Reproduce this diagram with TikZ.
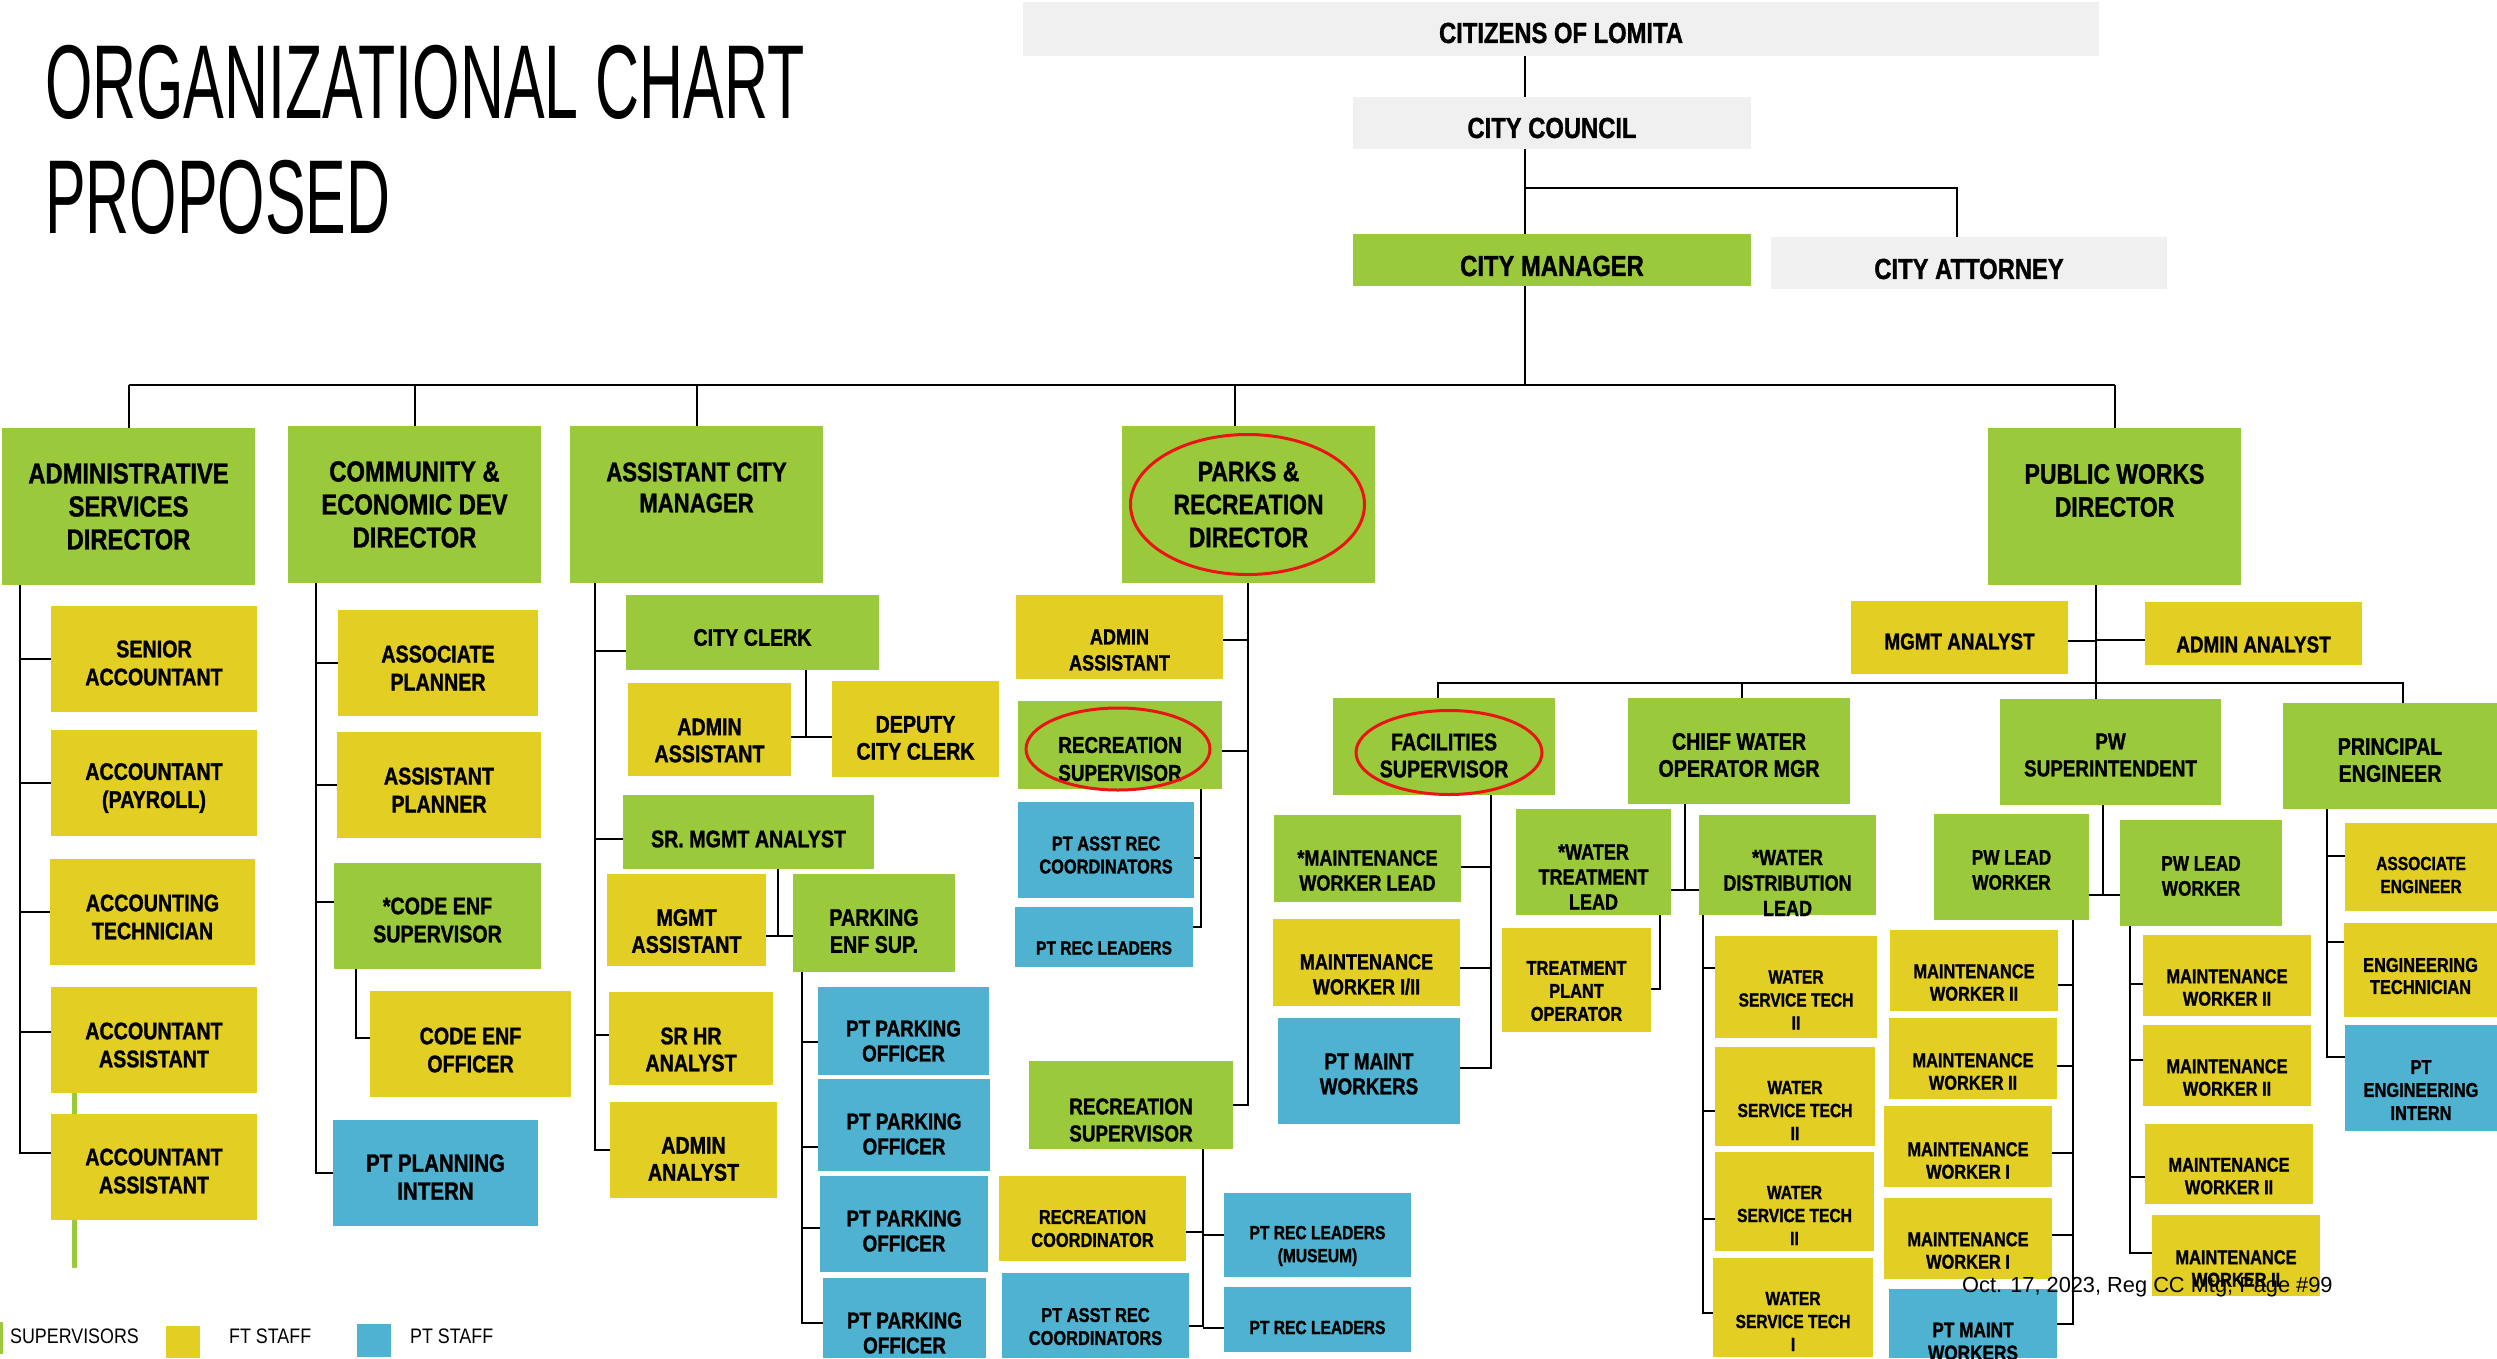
\documentclass[tikz,border=0pt]{standalone}
\usepackage{fontspec}
\usetikzlibrary{fit}
\newfontfamily\cf{Liberation Sans Bold}[FakeStretch=0.82, FakeBold=1.2]
\newfontfamily\tf{Liberation Sans}[FakeStretch=0.58]
\newfontfamily\lf{Liberation Sans}[FakeStretch=0.85]
\newfontfamily\ff{Liberation Sans}
\definecolor{grn}{RGB}{154,202,60}
\definecolor{ylw}{RGB}{227,206,36}
\definecolor{blu}{RGB}{78,178,208}
\definecolor{gry}{RGB}{240,240,240}
\definecolor{rng}{RGB}{235,20,20}
\tikzset{
  box/.style={inner sep=0pt, outer sep=0pt, draw=none},
  txt/.style={align=center, inner sep=0pt, text=black},
  conn/.style={line width=2pt, black},
  busline/.style={line width=2.6pt, black},
  ring/.style={draw=rng, line width=3pt},
}
% name, fill, corner1, corner2, size, skip, dy, text
\newcommand\ob[8]{%
  \node[box, fill=#2, fit={(#3) (#4)}] (#1) {};
  \node[txt, font={\cf\fontsize{#5}{#6}\selectfont}, yshift=#7pt] (#1t) at (#1.center) {#8};}
% spine coordinate, node, yshift
\newcommand\stubw[3]{\draw[conn] ([yshift=#3pt]#2.west) -- ([yshift=#3pt]#2.west -| #1);}
\newcommand\stube[3]{\draw[conn] ([yshift=#3pt]#2.east) -- ([yshift=#3pt]#2.east -| #1);}
\begin{document}
\begin{tikzpicture}[x=1pt, y=-1pt]
\useasboundingbox (0,0) rectangle (2497,1358);
\clip (0,0) rectangle (2497,1358);

% title
\node[anchor=base west, inner sep=0pt, font={\tf\fontsize{105}{120}\selectfont}] (title1) at (45,118) {ORGANIZATIONAL CHART};
\node[anchor=base west, inner sep=0pt, font={\tf\fontsize{105}{120}\selectfont}] (title2) at (45,233) {PROPOSED};

% decorative green line
\draw[grn, line width=5pt] (74,1093) -- (74,1268);

% top
\ob{cit}{gry}{1023,2}{2099,56}{29}{34}{-4}{CITIZENS OF LOMITA}
\ob{cc}{gry}{1353,97}{1751,149}{29}{34}{-5}{CITY COUNCIL}
\ob{cm}{grn}{1353,234}{1751,286}{29}{34}{-6}{CITY MANAGER}
\ob{ca}{gry}{1771,237}{2167,289}{29}{34}{-6}{CITY ATTORNEY}

% directors
\ob{asd}{grn}{2,428}{255,585}{29}{33}{0}{ADMINISTRATIVE\\SERVICES\\DIRECTOR}
\ob{ced}{grn}{288,426}{541,583}{29}{33}{0}{COMMUNITY \&\\ECONOMIC DEV\\DIRECTOR}
\ob{acm}{grn}{570,426}{823,583}{27}{31}{17}{ASSISTANT CITY\\MANAGER}
\ob{prd}{grn}{1122,426}{1375,583}{28}{33}{0}{PARKS \&\\RECREATION\\DIRECTOR}
\ob{pwd}{grn}{1988,428}{2241,585}{28}{33}{16}{PUBLIC WORKS\\DIRECTOR}

% administrative services
\ob{sa}{ylw}{51,606}{257,712}{24}{28}{-4}{SENIOR\\ACCOUNTANT}
\ob{ap}{ylw}{51,730}{257,836}{24}{28}{-5}{ACCOUNTANT\\(PAYROLL)}
\ob{at}{ylw}{50,859}{255,965}{24}{28}{-5}{ACCOUNTING\\TECHNICIAN}
\ob{aa1}{ylw}{51,987}{257,1093}{24}{28}{-5}{ACCOUNTANT\\ASSISTANT}
\ob{aa2}{ylw}{51,1114}{257,1220}{24}{28}{-4}{ACCOUNTANT\\ASSISTANT}

% community
\ob{asp}{ylw}{338,610}{538,716}{24}{28}{-5}{ASSOCIATE\\PLANNER}
\ob{asn}{ylw}{337,732}{541,838}{24}{28}{-5}{ASSISTANT\\PLANNER}
\ob{ces}{grn}{334,863}{541,969}{24}{28}{-4}{*CODE ENF\\SUPERVISOR}
\ob{ceo}{ylw}{370,991}{571,1097}{24}{28}{-6}{CODE ENF\\OFFICER}
\ob{ppi}{blu}{333,1120}{538,1226}{25}{28}{-4}{PT PLANNING\\INTERN}

% assistant city manager
\ob{clk}{grn}{626,595}{879,670}{24}{27}{-5}{CITY CLERK}
\ob{aas}{ylw}{628,683}{791,776}{24}{27}{-11}{ADMIN\\ASSISTANT}
\ob{dcc}{ylw}{832,681}{999,777}{24}{27}{-9}{DEPUTY\\CITY CLERK}
\ob{sma}{grn}{623,795}{874,869}{24}{27}{-7}{SR. MGMT ANALYST}
\ob{mga}{ylw}{607,874}{766,966}{24}{27}{-11}{MGMT\\ASSISTANT}
\ob{pes}{grn}{793,874}{955,972}{24}{27}{-8}{PARKING\\ENF SUP.}
\ob{shr}{ylw}{609,992}{773,1085}{24}{27}{-11}{SR HR\\ANALYST}
\ob{aan}{ylw}{610,1102}{777,1198}{24}{27}{-9}{ADMIN\\ANALYST}
\ob{po1}{blu}{818,987}{989,1075}{23}{25}{-10}{PT PARKING\\OFFICER}
\ob{po2}{blu}{818,1079}{990,1171}{23}{25}{-9}{PT PARKING\\OFFICER}
\ob{po3}{blu}{820,1176}{988,1272}{23}{25}{-7}{PT PARKING\\OFFICER}
\ob{po4}{blu}{823,1278}{986,1358}{23}{25}{-15}{PT PARKING\\OFFICER}

% parks and recreation
\ob{paa}{ylw}{1016,595}{1223,679}{22}{26}{-13}{ADMIN\\ASSISTANT}
\ob{rs1}{grn}{1018,701}{1222,789}{23}{28}{-14}{RECREATION\\SUPERVISOR}
\ob{pac1}{blu}{1018,802}{1194,898}{20}{23}{-5}{PT ASST REC\\COORDINATORS}
\ob{prl1}{blu}{1015,907}{1193,967}{19}{23}{-11}{PT REC LEADERS}
\ob{rs2}{grn}{1029,1061}{1233,1149}{23}{27}{-15}{RECREATION\\SUPERVISOR}
\ob{rco}{ylw}{999,1176}{1186,1261}{20}{23}{-10}{RECREATION\\COORDINATOR}
\ob{prm}{blu}{1224,1193}{1411,1277}{19}{23}{-11}{PT REC LEADERS\\(MUSEUM)}
\ob{pac2}{blu}{1002,1273}{1189,1358}{20}{23}{-11}{PT ASST REC\\COORDINATORS}
\ob{prl2}{blu}{1224,1287}{1411,1352}{19}{23}{-8}{PT REC LEADERS}

% public works
\ob{pma}{ylw}{1851,601}{2068,674}{23}{27}{-4}{MGMT ANALYST}
\ob{paa2}{ylw}{2145,602}{2362,665}{23}{27}{-11}{ADMIN ANALYST}
\ob{fs}{grn}{1333,698}{1555,795}{24}{27}{-9}{FACILITIES\\SUPERVISOR}
\ob{cwo}{grn}{1628,698}{1850,804}{24}{27}{-4}{CHIEF WATER\\OPERATOR MGR}
\ob{pws}{grn}{2000,699}{2221,805}{23}{27}{-3}{PW\\SUPERINTENDENT}
\ob{pe}{grn}{2283,703}{2497,809}{24}{27}{-4}{PRINCIPAL\\ENGINEER}
\ob{mwl}{grn}{1274,815}{1461,902}{22}{25}{-12}{*MAINTENANCE\\WORKER LEAD}
\ob{mw12}{ylw}{1273,919}{1460,1006}{22}{25}{-12}{MAINTENANCE\\WORKER I/II}
\ob{pmw}{blu}{1278,1018}{1460,1124}{23}{25}{-3}{PT MAINT\\WORKERS}
\ob{wtl}{grn}{1516,809}{1671,915}{22}{25}{-15}{*WATER\\TREATMENT\\LEAD}
\ob{tpo}{ylw}{1502,928}{1651,1032}{20}{23}{-11}{TREATMENT\\PLANT\\OPERATOR}
\ob{wdl}{grn}{1699,815}{1876,915}{22}{25.5}{-18}{*WATER\\DISTRIBUTION\\LEAD}
\ob{wst1}{ylw}{1715,936}{1877,1038}{19}{23}{-13}{WATER\\SERVICE TECH\\II}
\ob{wst2}{ylw}{1715,1047}{1875,1146}{19}{23}{-14}{WATER\\SERVICE TECH\\II}
\ob{wst3}{ylw}{1715,1152}{1874,1251}{19}{23}{-14}{WATER\\SERVICE TECH\\II}
\ob{wst4}{ylw}{1713,1258}{1873,1357}{19}{23}{-14}{WATER\\SERVICE TECH\\I}
\ob{plw1}{grn}{1934,814}{2089,920}{21}{25}{-3}{PW LEAD\\WORKER}
\ob{plw2}{grn}{2120,820}{2282,926}{21}{25}{-3}{PW LEAD\\WORKER}
\ob{mw2a}{ylw}{1890,930}{2058,1011}{20}{22.5}{-12}{MAINTENANCE\\WORKER II}
\ob{mw2b}{ylw}{1889,1018}{2057,1099}{20}{22.5}{-13}{MAINTENANCE\\WORKER II}
\ob{mw1a}{ylw}{1884,1106}{2052,1187}{20}{22.5}{-14}{MAINTENANCE\\WORKER I}
\ob{mw1b}{ylw}{1884,1198}{2052,1279}{20}{22.5}{-12}{MAINTENANCE\\WORKER I}
\ob{pmw2}{blu}{1889,1289}{2057,1358}{21}{23}{-18}{PT MAINT\\WORKERS}
\ob{mw2c}{ylw}{2143,935}{2311,1016}{20}{22.5}{-12}{MAINTENANCE\\WORKER II}
\ob{mw2d}{ylw}{2143,1025}{2311,1106}{20}{22.5}{-12}{MAINTENANCE\\WORKER II}
\ob{mw2e}{ylw}{2145,1124}{2313,1204}{20}{22.5}{-12}{MAINTENANCE\\WORKER II}
\ob{mw2f}{ylw}{2152,1215}{2320,1296}{20}{22.5}{-13}{MAINTENANCE\\WORKER II}
\ob{aen}{ylw}{2345,823}{2497,911}{19}{23}{-8}{ASSOCIATE\\ENGINEER}
\ob{etc}{ylw}{2344,923}{2497,1017}{20}{22}{-6}{ENGINEERING\\TECHNICIAN}
\ob{pei}{blu}{2345,1025}{2497,1131}{20}{23}{-12}{PT\\ENGINEERING\\INTERN}

% ---------------- connectors ----------------
\coordinate (trunk) at (1525,0);
\coordinate (bus) at (0,385);
\coordinate (attj) at (1525,188);
\draw[conn] (trunk |- cit.south) -- (trunk |- cc.north);
\draw[conn] (trunk |- cc.south) -- (trunk |- cm.north);
\draw[conn] (attj) -| ([xshift=-12pt]ca.north);
\draw[conn] (trunk |- cm.south) -- (trunk |- bus);
\draw[busline] (asd.north |- bus) -- (pwd.north |- bus);
\draw[conn] (asd.north |- bus) -- (asd.north);
\draw[conn] (ced.north |- bus) -- (ced.north);
\draw[conn] (acm.north |- bus) -- (acm.north);
\draw[conn] ([xshift=-14pt]prd.north |- bus) -- ([xshift=-14pt]prd.north);
\draw[conn] (pwd.north |- bus) -- (pwd.north);

% administrative services
\coordinate (adx) at (20,0);
\draw[conn] (adx |- asd.south) |- ([yshift=14pt]aa2.west);
\stubw{adx}{sa}{0}
\stubw{adx}{ap}{0}
\stubw{adx}{at}{0}
\stubw{adx}{aa1}{8}

% community
\coordinate (cex) at (316,0);
\draw[conn] (cex |- ced.south) |- (ppi.west);
\stubw{cex}{asp}{0}
\stubw{cex}{asn}{0}
\stubw{cex}{ces}{14}
\coordinate (cfx) at (356,0);
\draw[conn] (cfx |- ces.south) |- ([yshift=6pt]ceo.west);

% assistant city manager
\coordinate (acx) at (595,0);
\draw[conn] (acx |- acm.south) |- (aan.west);
\stubw{acx}{clk}{-18.5}
\stubw{acx}{sma}{-7}
\stubw{acx}{shr}{3.5}
\coordinate (ckj) at (806,737);
\draw[conn] (ckj |- clk.south) -- (ckj);
\draw[conn] (aas.east |- ckj) -- (dcc.west |- ckj);
\coordinate (smj) at (778,936);
\draw[conn] (smj |- sma.south) -- (smj);
\draw[conn] (mga.east |- smj) -- (pes.west |- smj);
\coordinate (pkx) at (802,0);
\draw[conn] (pkx |- pes.south) |- ([yshift=-5pt]po4.west);
\stubw{pkx}{po1}{-11}
\stubw{pkx}{po2}{-22}
\stubw{pkx}{po3}{-4}

% parks and recreation
\coordinate (prx) at (1248,0);
\draw[conn] (prx |- prd.south) |- (rs2.east);
\stube{prx}{paa}{-3}
\stube{prx}{rs1}{-6}
\coordinate (r1x) at (1201,0);
\draw[conn] (r1x |- rs1.south) |- ([yshift=10pt]prl1.east);
\stube{r1x}{pac1}{-8}
\coordinate (r2x) at (1203,0);
\draw[conn] (r2x |- rs2.south) |- ([yshift=-10.5pt]pac2.east);
\stube{r2x}{rco}{-13.5}
\stubw{r2x}{prm}{0}
\stubw{r2x}{prl2}{-8.5}

% public works
\coordinate (pwx) at (2096,0);
\coordinate (pwh) at (2096,683);
\draw[conn] (pwx |- pwd.south) -- (pwx |- pws.north);
\stube{pwx}{pma}{-3.5}
\stubw{pwx}{paa2}{-6.5}
\draw[conn] ([xshift=-6pt]fs.north) |- (pwh) -| ([xshift=13pt]pe.north);
\draw[conn] ([xshift=3pt]cwo.north) -- ([xshift=3pt]cwo.north |- pwh);

\coordinate (fsx) at (1491,0);
\draw[conn] (fsx |- fs.south) |- ([yshift=3pt]pmw.east);
\stube{fsx}{mwl}{-8.5}
\stube{fsx}{mw12}{-5.5}

\coordinate (cwj) at (1685,890);
\draw[conn] (cwj |- cwo.south) -- (cwj);
\draw[conn] (wtl.east |- cwj) -- (wdl.west |- cwj);
\coordinate (wtx) at (1660,0);
\draw[conn] (wtx |- wtl.south) |- ([yshift=-9pt]tpo.east);

\coordinate (wdx) at (1703,0);
\draw[conn] (wdx |- wdl.south) |- ([yshift=-5.5pt]wst4.west);
\stubw{wdx}{wst1}{19}
\stubw{wdx}{wst2}{-14.5}
\stubw{wdx}{wst3}{-17.5}

\coordinate (psj) at (2103,895);
\draw[conn] (psj |- pws.south) -- (psj);
\draw[conn] (plw1.east |- psj) -- (plw2.west |- psj);

\coordinate (p1x) at (2073,0);
\draw[conn] (p1x |- plw1.south) |- (pmw2.east);
\stube{p1x}{mw2a}{-14.5}
\stube{p1x}{mw2b}{-7.5}
\stube{p1x}{mw1a}{-6.5}
\stube{p1x}{mw1b}{3.5}

\coordinate (p2x) at (2130,0);
\draw[conn] (p2x |- plw2.south) |- ([yshift=2.5pt]mw2f.west);
\stubw{p2x}{mw2c}{-8.5}
\stubw{p2x}{mw2d}{5.5}
\stubw{p2x}{mw2e}{-13}

\coordinate (pex) at (2327,0);
\draw[conn] (pex |- pe.south) |- ([yshift=21pt]pei.west);
\stubw{pex}{aen}{11}
\stubw{pex}{etc}{28}

% red rings
\draw[ring] ([xshift=-1pt]prd.center) ellipse [x radius=117pt, y radius=70pt];
\draw[ring] ([xshift=-2pt,yshift=-4pt]rs1.center) ellipse [x radius=92pt, y radius=41pt];
\draw[ring] ([xshift=5pt,yshift=-6pt]fs.center) ellipse [x radius=93pt, y radius=42pt];

% legend
\draw[grn, line width=3pt] (1.5,1322) -- (1.5,1354);
\node[anchor=west, inner sep=0pt, font={\lf\fontsize{21}{24}\selectfont}] (lsup) at (10,1336) {SUPERVISORS};
\node[box, fill=ylw, fit={(166,1326) (200,1358)}] (lft) {};
\node[anchor=west, inner sep=0pt, font={\lf\fontsize{21}{24}\selectfont}] (lftt) at (229,1336) {FT STAFF};
\node[box, fill=blu, fit={(357,1324) (391,1357)}] (lpt) {};
\node[anchor=west, inner sep=0pt, font={\lf\fontsize{21}{24}\selectfont}] (lptt) at (410,1336) {PT STAFF};

% footer
\node[anchor=base west, inner sep=0pt, font={\ff\fontsize{21.8}{26}\selectfont}] (foot) at (1962,1292) {Oct. 17, 2023, Reg CC Mtg, Page \#99};
\end{tikzpicture}
\end{document}
